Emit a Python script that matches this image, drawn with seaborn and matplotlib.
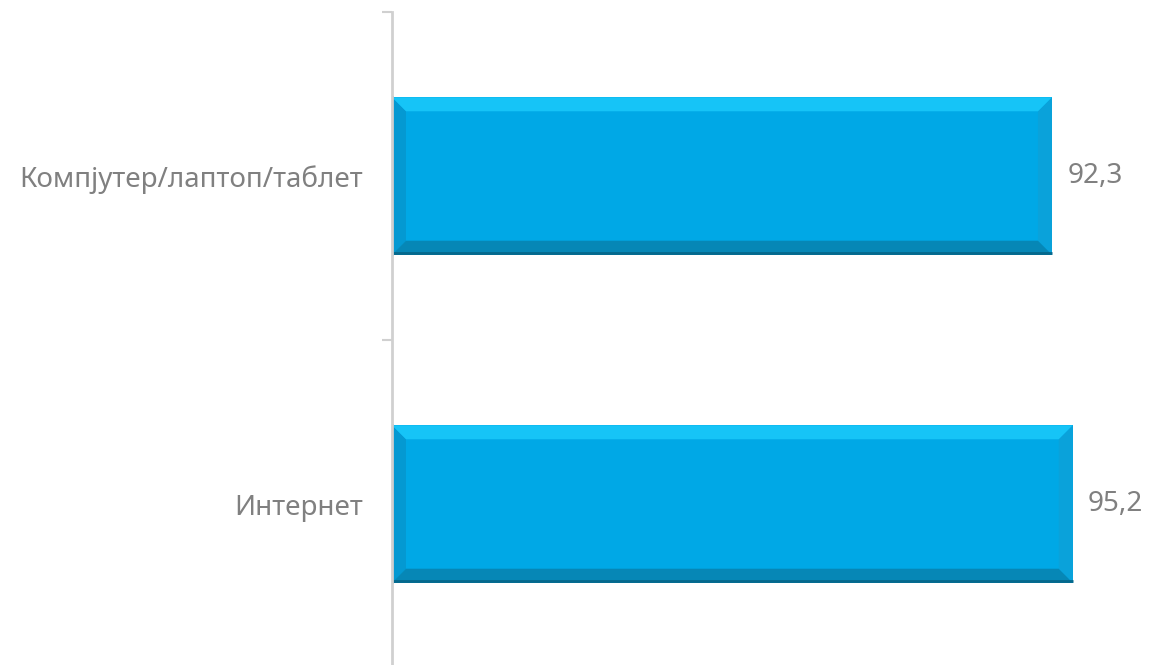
import matplotlib
matplotlib.use("Agg")
import matplotlib.pyplot as plt
import seaborn as sns
import pandas as pd
from matplotlib.patches import Polygon

# data
categories = ["Компјутер/лаптоп/таблет", "Интернет"]
values = [92.3, 95.2]
value_labels = ["92,3", "95,2"]

sns.set_theme(style="white")
plt.rcParams["font.family"] = ["Noto Sans", "DejaVu Sans"]

W, H = 1151, 665
fig = plt.figure(figsize=(W / 100, H / 100), dpi=100)
# axes box in pixels: left 392, top 12, bottom 668 (just below the image), xmax=100 -> 715 px
ax = fig.add_axes([392 / W, -3 / H, 715 / W, 656 / H])

df = pd.DataFrame({"cat": categories, "val": values})
sns.barplot(data=df, x="val", y="cat", orient="h", color="#00A8E6",
            saturation=1, width=0.48, ax=ax, edgecolor="none")

ax.set_xlim(0, 100)
ax.set_ylim(1.5, -0.5)
ax.set_xlabel("")
ax.set_ylabel("")
ax.set_xticks([])

# bevel look, built on each bar's own geometry
px_x = 715 / 100
px_y = 656 / 2
b = 14
for p in ax.patches:
    x0, y0 = p.get_x(), p.get_y()
    x1, y1 = x0 + p.get_width(), y0 + p.get_height()
    bx, by = b / px_x, b / px_y
    top = [(x0, y0), (x1, y0), (x1 - bx, y0 + by), (x0 + bx, y0 + by)]
    bot = [(x0, y1), (x1, y1), (x1 - bx, y1 - by), (x0 + bx, y1 - by)]
    left = [(x0, y0), (x0 + bx, y0 + by), (x0 + bx, y1 - by), (x0, y1)]
    right = [(x1, y0), (x1 - bx, y0 + by), (x1 - bx, y1 - by), (x1, y1)]
    ax.add_patch(Polygon(left, closed=True, facecolor="#0499D2", edgecolor="none"))
    ax.add_patch(Polygon(right, closed=True, facecolor="#0AA2DA", edgecolor="none"))
    ax.add_patch(Polygon(top, closed=True, facecolor="#16C4F7", edgecolor="none"))
    ax.add_patch(Polygon(bot, closed=True, facecolor="#0687B6", edgecolor="none"))
    # thin dark bottom edge and thin left line
    ax.plot([x0, x1], [y1 - 1.5 / px_y, y1 - 1.5 / px_y], color="#05688C", lw=2,
            solid_capstyle="butt")
    ax.plot([x0 + 1 / px_x] * 2, [y0, y1], color="#0A7FAE", lw=1.2)

ax.bar_label(ax.containers[0], labels=value_labels, padding=11,
             fontsize=20, color="#808080")

for s in ["top", "right", "bottom"]:
    ax.spines[s].set_visible(False)
ax.spines["left"].set_color("#D0D0D0")
ax.spines["left"].set_linewidth(2)

ax.tick_params(axis="y", which="major", length=0, pad=21, labelsize=20,
               labelcolor="#808080")
ax.set_yticks([-0.5, 0.5, 1.5], minor=True)
ax.tick_params(axis="y", which="minor", length=7.5, width=1.5, color="#D0D0D0",
               direction="out", left=True)

fig.savefig("out.png", dpi=100)
